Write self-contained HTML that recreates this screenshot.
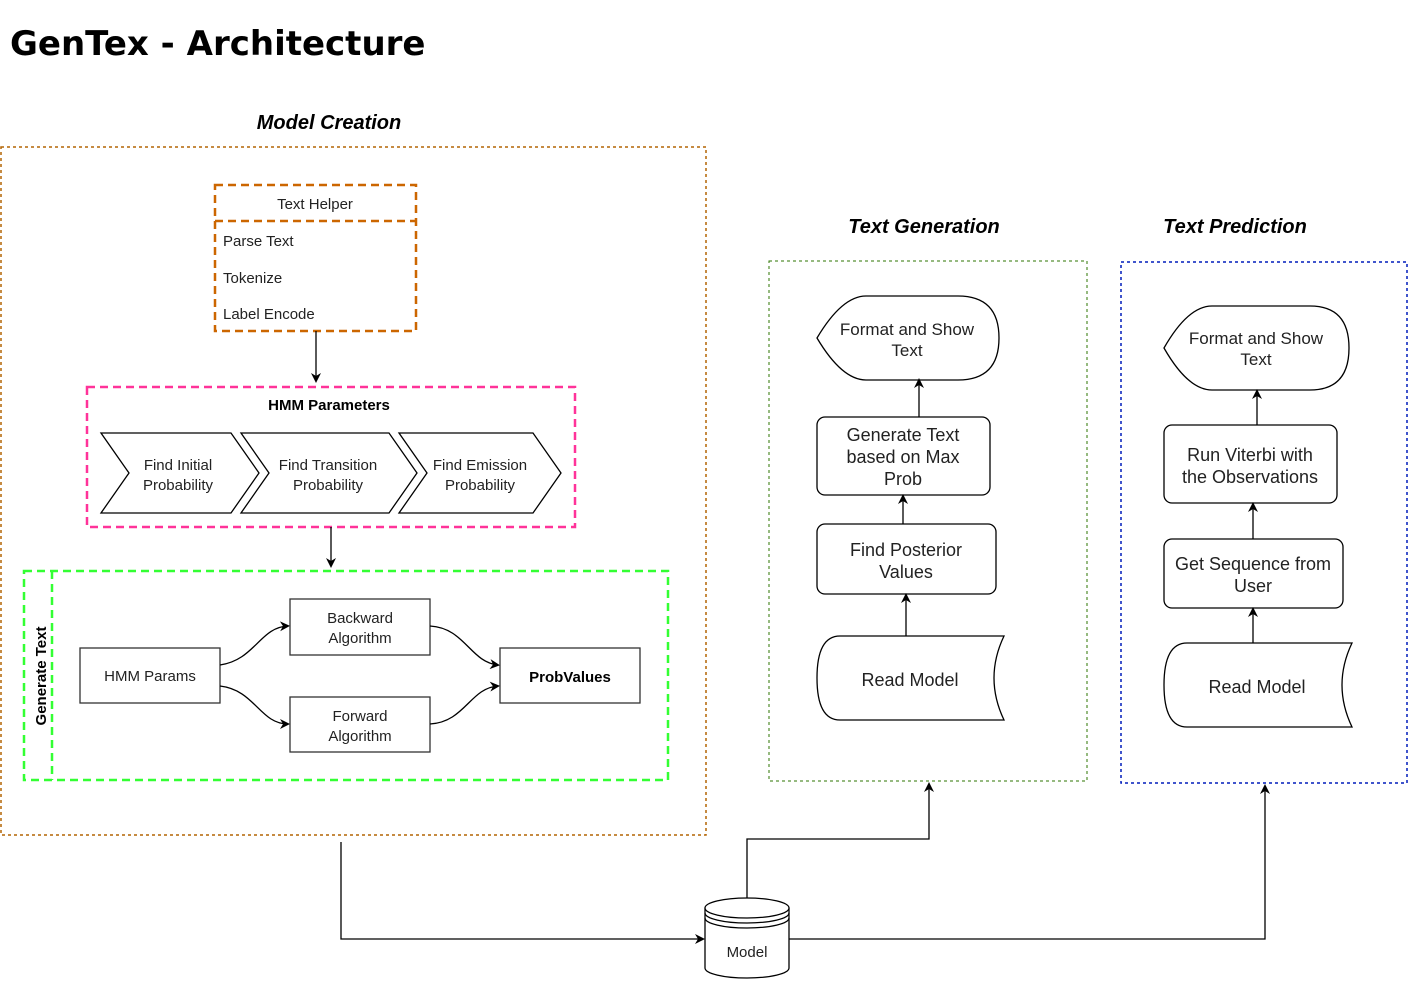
<!DOCTYPE html>
<html><head><meta charset="utf-8"><style>
html,body{margin:0;padding:0;background:#fff;}
svg{display:block;}
text{font-family:"Liberation Sans",Arial,sans-serif;fill:#222;}
</style></head><body>
<svg width="1409" height="982" viewBox="0 0 1409 982" xmlns="http://www.w3.org/2000/svg">
<defs>
<marker id="a" markerWidth="10" markerHeight="10" refX="8" refY="5" orient="auto" markerUnits="userSpaceOnUse">
<path d="M0,0 L10,5 L0,10 L3,5 Z" fill="#000"/></marker>
</defs>
<text x="10" y="55" style="font-family:'Comic Sans MS','DejaVu Sans',sans-serif;font-weight:bold;font-size:34px;fill:#000">GenTex - Architecture</text>
<text x="329" y="129" text-anchor="middle" font-size="20" font-weight="bold" font-style="italic" style="fill:#000">Model Creation</text>
<text x="924" y="233" text-anchor="middle" font-size="20" font-weight="bold" font-style="italic" style="fill:#000">Text Generation</text>
<text x="1235" y="233" text-anchor="middle" font-size="20" font-weight="bold" font-style="italic" style="fill:#000">Text Prediction</text>

<!-- containers -->
<rect x="1" y="147" width="705" height="688" fill="none" stroke="#b46504" stroke-width="1.5" stroke-dasharray="3,3"/>
<rect x="769" y="261" width="318" height="520" fill="none" stroke="#2d7600" stroke-width="1" stroke-dasharray="3,3"/>
<rect x="1121" y="262" width="286" height="521" fill="none" stroke="#001dbc" stroke-width="1.5" stroke-dasharray="3,3"/>

<!-- Text helper -->
<rect x="215" y="185" width="201" height="146" fill="none" stroke="#cc6600" stroke-width="2.5" stroke-dasharray="8,5"/>
<line x1="215" y1="221" x2="416" y2="221" stroke="#cc6600" stroke-width="2.5" stroke-dasharray="8,5"/>
<text x="315" y="209" text-anchor="middle" font-size="15">Text Helper</text>
<text x="223" y="246" font-size="15">Parse Text</text>
<text x="223" y="283" font-size="15">Tokenize</text>
<text x="223" y="319" font-size="15">Label Encode</text>
<line x1="316" y1="331" x2="316" y2="381" stroke="#000" stroke-width="1.3" marker-end="url(#a)"/>

<!-- HMM params -->
<rect x="87" y="387" width="488" height="140" fill="none" stroke="#ff3399" stroke-width="2.5" stroke-dasharray="8,5"/>
<text x="329" y="410" text-anchor="middle" font-size="15" font-weight="bold" style="fill:#000">HMM Parameters</text>
<g fill="#fff" stroke="#000" stroke-width="1.3">
<polygon points="101,433 231,433 259,473 231,513 101,513 129,473"/>
<polygon points="241,433 389,433 417,473 389,513 241,513 269,473"/>
<polygon points="399,433 533,433 561,473 533,513 399,513 427,473"/>
</g>
<g font-size="15" text-anchor="middle">
<text x="178" y="470">Find Initial</text><text x="178" y="490">Probability</text>
<text x="328" y="470">Find Transition</text><text x="328" y="490">Probability</text>
<text x="480" y="470">Find Emission</text><text x="480" y="490">Probability</text>
</g>
<line x1="331" y1="527" x2="331" y2="566" stroke="#000" stroke-width="1.3" marker-end="url(#a)"/>

<!-- Generate Text -->
<rect x="24" y="571" width="644" height="209" fill="none" stroke="#33ff33" stroke-width="2.5" stroke-dasharray="8,5"/>
<line x1="52" y1="571" x2="52" y2="780" stroke="#33ff33" stroke-width="2.5" stroke-dasharray="8,5"/>
<text transform="translate(46,676) rotate(-90)" text-anchor="middle" font-size="15" font-weight="bold" style="fill:#000">Generate Text</text>
<g fill="#fff" stroke="#333" stroke-width="1.3">
<rect x="80" y="648" width="140" height="55"/>
<rect x="290" y="599" width="140" height="56"/>
<rect x="290" y="697" width="140" height="55"/>
<rect x="500" y="648" width="140" height="55"/>
</g>
<g font-size="15" text-anchor="middle">
<text x="150" y="681">HMM Params</text>
<text x="360" y="623">Backward</text><text x="360" y="643">Algorithm</text>
<text x="360" y="721">Forward</text><text x="360" y="741">Algorithm</text>
<text x="570" y="682" font-weight="bold" style="fill:#000">ProbValues</text>
</g>
<g fill="none" stroke="#000" stroke-width="1.3" marker-end="url(#a)">
<path d="M220,665 C255,660 260,627 288,626"/>
<path d="M220,686 C255,690 260,724 288,724"/>
<path d="M430,626 C465,628 470,662 498,665"/>
<path d="M430,724 C465,722 470,688 498,686"/>
</g>

<!-- Text Generation -->
<g fill="#fff" stroke="#000" stroke-width="1.3">
<path d="M817,338 Q842,296 866,296 L958,296 Q999,296 999,338 Q999,380 958,380 L866,380 Q842,380 817,338 Z"/>
<rect x="817" y="417" width="173" height="78" rx="8"/>
<rect x="817" y="524" width="179" height="70" rx="8"/>
<path d="M840,636 L1004,636 Q984,678 1004,720 L840,720 Q817,720 817,678 Q817,636 840,636 Z"/>
</g>
<g font-size="18" text-anchor="middle">
<text x="907" y="335" font-size="17">Format and Show</text><text x="907" y="356" font-size="17">Text</text>
<text x="903" y="441">Generate Text</text><text x="903" y="463">based on Max</text><text x="903" y="485">Prob</text>
<text x="906" y="556">Find Posterior</text><text x="906" y="578">Values</text>
<text x="910" y="686">Read Model</text>
</g>
<g stroke="#000" stroke-width="1.3" marker-end="url(#a)">
<line x1="919" y1="417" x2="919" y2="380"/>
<line x1="903" y1="524" x2="903" y2="496"/>
<line x1="906" y1="636" x2="906" y2="595"/>
</g>

<!-- Text Prediction -->
<g fill="#fff" stroke="#000" stroke-width="1.3">
<path d="M1164,348 Q1188,306 1212,306 L1310,306 Q1349,306 1349,348 Q1349,390 1310,390 L1212,390 Q1188,390 1164,348 Z"/>
<rect x="1164" y="425" width="173" height="78" rx="8"/>
<rect x="1164" y="539" width="179" height="69" rx="8"/>
<path d="M1187,643 L1352,643 Q1332,685 1352,727 L1187,727 Q1164,727 1164,685 Q1164,643 1187,643 Z"/>
</g>
<g font-size="18" text-anchor="middle">
<text x="1256" y="344" font-size="17">Format and Show</text><text x="1256" y="365" font-size="17">Text</text>
<text x="1250" y="461">Run Viterbi with</text><text x="1250" y="483">the Observations</text>
<text x="1253" y="570">Get Sequence from</text><text x="1253" y="592">User</text>
<text x="1257" y="693">Read Model</text>
</g>
<g stroke="#000" stroke-width="1.3" marker-end="url(#a)">
<line x1="1257" y1="425" x2="1257" y2="391"/>
<line x1="1253" y1="539" x2="1253" y2="504"/>
<line x1="1253" y1="643" x2="1253" y2="609"/>
</g>

<!-- Model cylinder -->
<g fill="#fff" stroke="#000" stroke-width="1.3">
<path d="M705,908 L705,968 A42,10 0 0 0 789,968 L789,908"/>
<ellipse cx="747" cy="908" rx="42" ry="10"/>
<path d="M705,913 A42,10 0 0 0 789,913" fill="none"/>
<path d="M705,918 A42,10 0 0 0 789,918" fill="none"/>
</g>
<text x="747" y="957" text-anchor="middle" font-size="15">Model</text>
<g fill="none" stroke="#000" stroke-width="1.3">
<path d="M341,842 L341,939 L703,939" marker-end="url(#a)"/>
<path d="M747,898 L747,839 L929,839 L929,784" marker-end="url(#a)"/>
<path d="M789,939 L1265,939 L1265,786" marker-end="url(#a)"/>
</g>
</svg>
</body></html>
